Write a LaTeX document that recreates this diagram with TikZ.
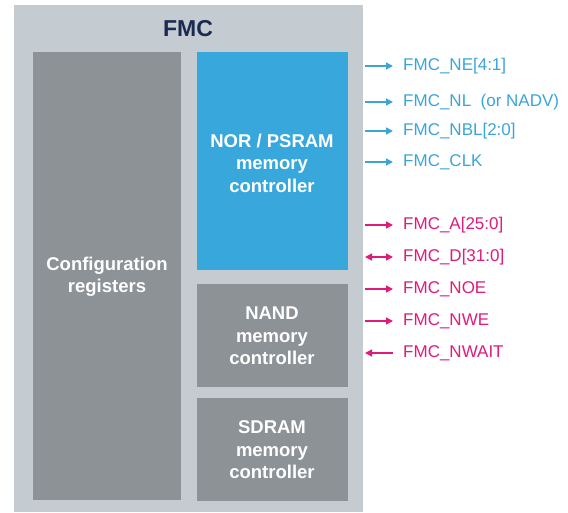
\documentclass[tikz,border=0pt]{standalone}
\usepackage{fontspec}
\setmainfont{Liberation Sans}
\usetikzlibrary{arrows.meta}
\definecolor{fmcframe}{HTML}{C4CCD2}
\definecolor{blockgray}{HTML}{8D9297}
\definecolor{norblue}{HTML}{38A8DC}
\definecolor{titlenavy}{HTML}{1A2A50}
\definecolor{sigblue}{HTML}{3BA5DA}
\definecolor{sigpink}{HTML}{DD1C7C}
\tikzset{
  x=1pt, y=-1pt,
  tip/.style={Triangle[length=7pt,width=7pt]},
  block/.style={fill=#1, draw=none},
  blocktext/.style={text=white, font=\bfseries\fontsize{18.5}{22.5}\selectfont, align=center},
  sigtext/.style={anchor=west, font=\fontsize{17}{19}\selectfont, inner sep=0pt},
  sigline/.style={line width=1.5pt, -{Triangle[length=7pt,width=7pt]}},
  bisigline/.style={line width=1.5pt, {Triangle[length=7pt,width=7pt]}-{Triangle[length=7pt,width=7pt]}},
  insigline/.style={line width=1.5pt, {Triangle[length=7pt,width=7pt]}-},
}
\begin{document}
\begin{tikzpicture}
\useasboundingbox (0,0) rectangle (568,512);
\fill[white] (0,0) rectangle (568,512);
% FMC frame
\fill[fmcframe] (14,5) rectangle (363,512);
\node[text=titlenavy, font=\bfseries\fontsize{23}{25}\selectfont] (title) at (188,29) {FMC};
% Blocks
\fill[block=blockgray] (33,52) rectangle (181,500);
\fill[block=norblue] (197,52) rectangle (348,270);
\fill[block=blockgray] (197,284) rectangle (348,387);
\fill[block=blockgray] (197,398) rectangle (348,501);
\node[blocktext] (cfg) at (107,277) {Configuration\\registers};
\node[blocktext] (nor) at (272,163) {NOR / PSRAM\\memory\\controller};
\node[blocktext] (nand) at (272,336) {NAND\\memory\\controller};
\node[blocktext] (sdram) at (272,450) {SDRAM\\memory\\controller};
% Signals
\foreach \y/\name/\lab/\sty/\col in {
  66/ne/{FMC\_NE[4:1]}/sigline/sigblue,
  102/nl/{FMC\_NL~ (or NADV)}/sigline/sigblue,
  131/nbl/{FMC\_NBL[2:0]}/sigline/sigblue,
  162/clk/{FMC\_CLK}/sigline/sigblue,
  225/a/{FMC\_A[25:0]}/sigline/sigpink,
  257/d/{FMC\_D[31:0]}/bisigline/sigpink,
  289/noe/{FMC\_NOE}/sigline/sigpink,
  321/nwe/{FMC\_NWE}/sigline/sigpink,
  353/nwait/{FMC\_NWAIT}/insigline/sigpink}{
  \coordinate (\name-s) at (365,\y);
  \coordinate (\name-e) at (393,\y);
  \draw[\sty, draw=\col, fill=\col] (\name-s) -- (\name-e);
  \node[sigtext, text=\col] (\name) at (403,\y) {\lab};
}
\end{tikzpicture}
\end{document}
